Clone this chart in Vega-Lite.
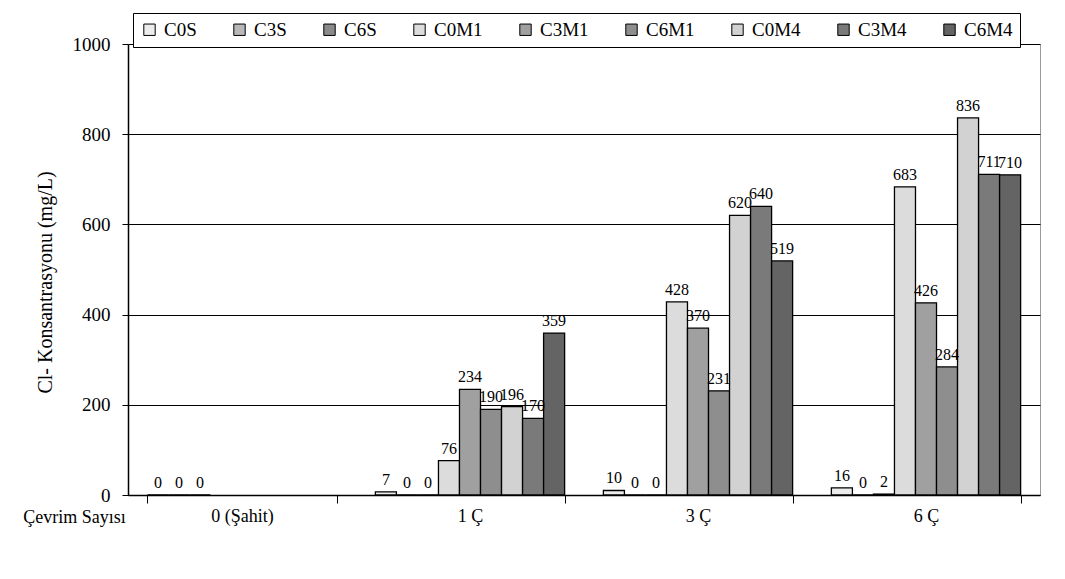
{
  "$schema": "https://vega.github.io/schema/vega-lite/v6.json",
  "width": 912,
  "height": 451,
  "autosize": {"type": "none"},
  "padding": {"left": 128, "top": 44, "right": 25, "bottom": 84},
  "background": "white",
  "config": {
    "font": "Times New Roman, Liberation Serif, serif",
    "text": {"font": "Times New Roman, Liberation Serif, serif"},
    "legend": {"labelFont": "Times New Roman, Liberation Serif, serif"},
    "axis": {"labelFont": "Times New Roman, Liberation Serif, serif", "titleFont": "Times New Roman, Liberation Serif, serif"},
    "view": {"stroke": "#9a9a9a", "strokeWidth": 1}
  },
  "data": {
    "values": [
      {"cycle": "0 (Şahit)", "series": "C0S", "value": 0},
      {"cycle": "0 (Şahit)", "series": "C3S", "value": 0},
      {"cycle": "0 (Şahit)", "series": "C6S", "value": 0},
      {"cycle": "1 Ç", "series": "C0S", "value": 7},
      {"cycle": "1 Ç", "series": "C3S", "value": 0},
      {"cycle": "1 Ç", "series": "C6S", "value": 0},
      {"cycle": "1 Ç", "series": "C0M1", "value": 76},
      {"cycle": "1 Ç", "series": "C3M1", "value": 234},
      {"cycle": "1 Ç", "series": "C6M1", "value": 190},
      {"cycle": "1 Ç", "series": "C0M4", "value": 196},
      {"cycle": "1 Ç", "series": "C3M4", "value": 170},
      {"cycle": "1 Ç", "series": "C6M4", "value": 359},
      {"cycle": "3 Ç", "series": "C0S", "value": 10},
      {"cycle": "3 Ç", "series": "C3S", "value": 0},
      {"cycle": "3 Ç", "series": "C6S", "value": 0},
      {"cycle": "3 Ç", "series": "C0M1", "value": 428},
      {"cycle": "3 Ç", "series": "C3M1", "value": 370},
      {"cycle": "3 Ç", "series": "C6M1", "value": 231},
      {"cycle": "3 Ç", "series": "C0M4", "value": 620},
      {"cycle": "3 Ç", "series": "C3M4", "value": 640},
      {"cycle": "3 Ç", "series": "C6M4", "value": 519},
      {"cycle": "6 Ç", "series": "C0S", "value": 16},
      {"cycle": "6 Ç", "series": "C3S", "value": 0},
      {"cycle": "6 Ç", "series": "C6S", "value": 2},
      {"cycle": "6 Ç", "series": "C0M1", "value": 683},
      {"cycle": "6 Ç", "series": "C3M1", "value": 426},
      {"cycle": "6 Ç", "series": "C6M1", "value": 284},
      {"cycle": "6 Ç", "series": "C0M4", "value": 836},
      {"cycle": "6 Ç", "series": "C3M4", "value": 711},
      {"cycle": "6 Ç", "series": "C6M4", "value": 710}
    ]
  },
  "encoding": {
    "x": {
      "field": "cycle",
      "type": "nominal",
      "sort": ["0 (Şahit)", "1 Ç", "3 Ç", "6 Ç"],
      "scale": {"paddingInner": 0.17, "paddingOuter": 0.085},
      "axis": {
        "title": "Çevrim Sayısı",
        "titleFontSize": 18,
        "titleFontWeight": "normal",
        "titleX": -54,
        "titleY": 22,
        "titleBaseline": "middle",
        "titleAlign": "center",
        "labelAngle": 0,
        "labelFontSize": 18,
        "labelColor": "black",
        "labelPadding": 4,
        "tickBand": "extent",
        "tickSize": 8,
        "tickColor": "black",
        "domainColor": "black",
        "domainWidth": 1.5
      }
    },
    "xOffset": {
      "field": "series",
      "type": "nominal",
      "sort": ["C0S", "C3S", "C6S", "C0M1", "C3M1", "C6M1", "C0M4", "C3M4", "C6M4"]
    },
    "y": {
      "field": "value",
      "type": "quantitative",
      "scale": {"domain": [0, 1000], "nice": false},
      "axis": {
        "title": "Cl- Konsantrasyonu (mg/L)",
        "titleFontSize": 20,
        "titleFontWeight": "normal",
        "titleAngle": -90,
        "titleX": -83,
        "titleY": 238,
        "titleBaseline": "middle",
        "titleAlign": "center",
        "values": [0, 200, 400, 600, 800, 1000],
        "format": "d",
        "labelFontSize": 19,
        "labelColor": "black",
        "labelPadding": 12,
        "tickSize": 6,
        "tickColor": "black",
        "domainColor": "black",
        "domainWidth": 1.5,
        "grid": true,
        "gridColor": "black",
        "gridWidth": 1
      }
    }
  },
  "layer": [
    {
      "mark": {"type": "bar", "stroke": "black", "strokeWidth": 1.3},
      "encoding": {
        "fill": {
          "field": "series",
          "type": "nominal",
          "sort": ["C0S", "C3S", "C6S", "C0M1", "C3M1", "C6M1", "C0M4", "C3M4", "C6M4"],
          "scale": {
            "domain": ["C0S", "C3S", "C6S", "C0M1", "C3M1", "C6M1", "C0M4", "C3M4", "C6M4"],
            "range": ["#ececec", "#b8b8b8", "#8a8a8a", "#dcdcdc", "#a0a0a0", "#8e8e8e", "#d2d2d2", "#7a7a7a", "#646464"]
          },
          "legend": {
            "orient": "none",
            "legendX": 5,
            "legendY": -31,
            "direction": "horizontal",
            "columns": 9,
            "title": null,
            "fillColor": "white",
            "strokeColor": "black",
            "padding": 7,
            "symbolType": "square",
            "symbolSize": 130,
            "symbolStrokeColor": "black",
            "symbolStrokeWidth": 1,
            "labelFont": "Times New Roman, Liberation Serif, serif",
            "labelFontSize": 19,
            "labelColor": "black",
            "labelOffset": 5,
            "columnPadding": 33
          }
        }
      }
    },
    {
      "mark": {"type": "text", "dy": -12, "fontSize": 16, "font": "Times New Roman, Liberation Serif, serif", "color": "black"},
      "encoding": {
        "text": {"field": "value", "type": "quantitative"}
      }
    }
  ]
}
